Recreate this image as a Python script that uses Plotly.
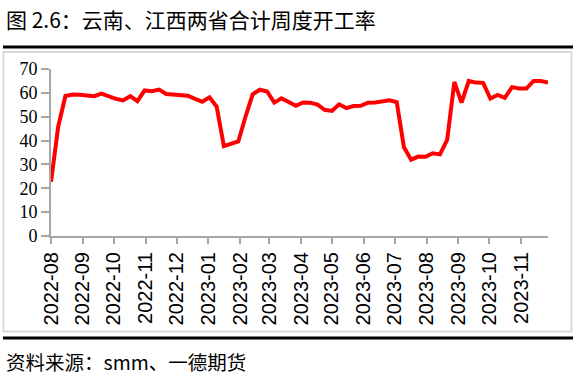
import pandas as pd
import plotly.graph_objects as go

# ---- data ----
start_date = "2022-08-01"
rate = [22.7, 45.8, 58.7, 59.3, 59.2, 59.1, 58.6, 59.7, 58.4, 57.5,
        56.8, 58.6, 56.5, 61.0, 60.7, 61.4, 59.5, 59.4, 59.2, 58.8,
        57.5, 56.3, 58.1, 54.2, 37.7, 38.7, 39.6, 50.0, 59.4, 61.3,
        60.6, 55.9, 57.7, 56.2, 54.6, 56.0, 55.9, 55.1, 52.9, 52.4,
        55.2, 53.6, 54.5, 54.6, 55.9, 56.0, 56.4, 56.9, 56.1, 37.2,
        32.0, 33.3, 33.2, 34.7, 34.2, 40.3, 64.6, 55.9, 65.0, 64.3,
        64.2, 57.6, 59.1, 57.9, 62.4, 61.8, 61.8, 65.0, 65.0, 64.3]
dates = pd.date_range(start_date, periods=len(rate), freq="7D")
y_ticks = [0, 10, 20, 30, 40, 50, 60, 70]
title_text = "图 2.6：云南、江西两省合计周度开工率"
source_text = "资料来源：smm、一德期货"

# ---- layout geometry (pixels) ----
W, H = 577, 381
L, R, T, B = 51, 548, 69, 235.7


def px(x):
    return (x - L) / (R - L)


def py(y):
    return (B - y) / (B - T)


fig = go.Figure()
fig.add_trace(go.Scatter(
    x=dates, y=rate, mode="lines",
    line=dict(color="#ff0000", width=4),
    hoverinfo="skip", showlegend=False,
))

axis_color = "#a6a6a6"
fig.update_layout(
    width=W, height=H,
    margin=dict(l=L, r=W - R, t=T, b=H - B, pad=0),
    paper_bgcolor="white", plot_bgcolor="white",
    xaxis=dict(
        range=[dates[0], dates[-1]],
        dtick="M1", tick0=start_date, tickformat="%Y-%m",
        tickangle=-90, ticks="outside", ticklen=6, tickcolor=axis_color, tickwidth=2,
        showline=True, linecolor=axis_color, linewidth=2,
        showgrid=False, zeroline=False,
        tickfont=dict(family="Liberation Sans, Arial", size=20, color="black"),
    ),
    yaxis=dict(
        range=[0, 70], tickvals=y_ticks,
        ticks="outside", ticklen=8, tickcolor=axis_color, tickwidth=2,
        showline=True, linecolor=axis_color, linewidth=2,
        showgrid=False, zeroline=False,
        tickfont=dict(family="Liberation Serif, Times New Roman", size=18, color="black"),
    ),
    shapes=[
        dict(type="rect", xref="paper", yref="paper",
             x0=px(3.5), x1=px(571.5), y0=py(52), y1=py(331),
             line=dict(color="#d9d9d9", width=2), layer="below"),
        dict(type="line", xref="paper", yref="paper",
             x0=px(3), x1=px(573), y0=py(47), y1=py(47),
             line=dict(color="black", width=3)),
        dict(type="line", xref="paper", yref="paper",
             x0=px(3), x1=px(573), y0=py(337.5), y1=py(337.5),
             line=dict(color="black", width=3)),
    ],
    annotations=[
        dict(text=title_text, xref="paper", yref="paper",
             x=px(4), y=py(19), xanchor="left", yanchor="middle",
             showarrow=False,
             font=dict(family="Noto Sans CJK SC", size=21, color="black")),
        dict(text=source_text, xref="paper", yref="paper",
             x=px(4), y=py(361), xanchor="left", yanchor="middle",
             showarrow=False,
             font=dict(family="Noto Sans CJK SC", size=19.5, color="black")),
    ],
)

fig.write_html("out.html", config={"displayModeBar": False},
               post_script="document.body.style.margin='0';")
